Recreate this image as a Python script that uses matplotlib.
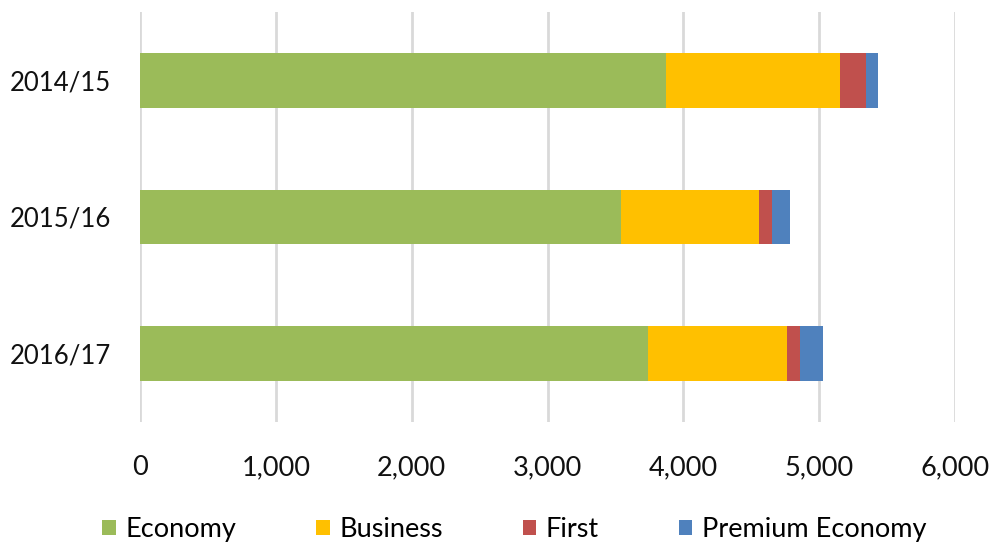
import matplotlib
matplotlib.use("Agg")
import matplotlib.pyplot as plt
import numpy as np

years = ["2014/15", "2015/16", "2016/17"]
economy = [3870, 3540, 3740]
business = [1285, 1020, 1025]
first = [192, 93, 95]
premium_economy = [85, 133, 170]
x_ticks = [0, 1000, 2000, 3000, 4000, 5000, 6000]

series = [
    ("Economy", economy, "#9BBB59"),
    ("Business", business, "#FFC000"),
    ("First", first, "#C0504D"),
    ("Premium Economy", premium_economy, "#4F81BD"),
]

plt.rcParams["font.family"] = ["Lato", "DejaVu Sans"]

fig = plt.figure(figsize=(9.93, 5.42), dpi=100)
ax = fig.add_axes([140 / 993, 1 - 422 / 542, 815 / 993, 410 / 542])

y = np.arange(len(years))
left = np.zeros(len(years))
for name, vals, color in series:
    ax.barh(y, vals, left=left, height=0.4, color=color, label=name, zorder=3)
    left += np.array(vals)

ax.set_xlim(0, 6000)
ax.set_ylim(len(years) - 0.5, -0.5)
ax.set_yticks(y)
ax.set_yticklabels(years, fontsize=18.5, color="#111111")
ax.set_xticks(x_ticks)
ax.set_xticklabels([f"{v:,}" for v in x_ticks], fontsize=19.5, color="#111111")
ax.tick_params(axis="y", length=0, pad=21)
ax.tick_params(axis="x", length=0, pad=24)
ax.grid(axis="x", color="#D9D9D9", linewidth=2, zorder=0)
for s in ax.spines.values():
    s.set_visible(False)

fig.legend(loc="lower center", bbox_to_anchor=(0.518, -0.045), ncol=4,
           frameon=False, fontsize=19.5, handlelength=0.5, handleheight=0.5,
           handletextpad=0.35, columnspacing=2.95)

fig.savefig("out.png", dpi=100)
